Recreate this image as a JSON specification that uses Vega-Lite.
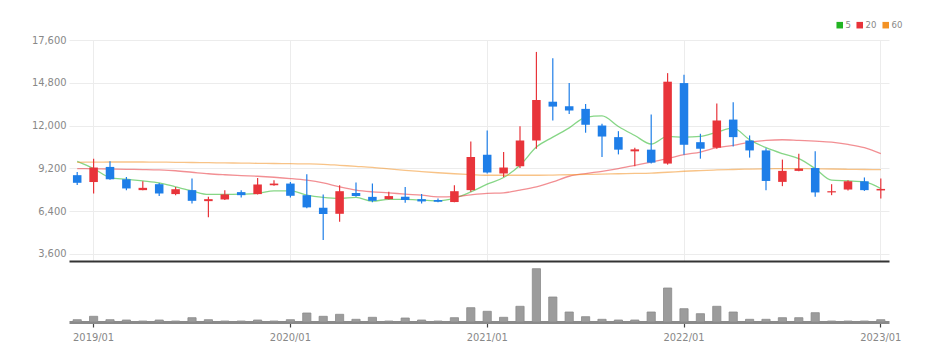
{
  "$schema": "https://vega.github.io/schema/vega-lite/v6.json",
  "background": "white",
  "padding": {"left": 31, "top": 20, "right": 0, "bottom": 0},
  "spacing": 0,
  "bounds": "flush",
  "resolve": {"scale": {"color": "independent"}, "legend": {"color": "independent"}},
  "config": {
    "view": {"stroke": null},
    "font": "Liberation Sans Narrow, DejaVu Sans Condensed, sans-serif",
    "axis": {"labelFont": "Liberation Sans Narrow, DejaVu Sans Condensed, sans-serif", "labelColor": "#888888", "labelFontSize": 11},
    "legend": {"labelFont": "Liberation Sans Narrow, DejaVu Sans Condensed, sans-serif"}
  },
  "datasets": {
    "stock": [
      {"ym": "2018/12", "o": 8750, "h": 8950, "l": 8100, "c": 8250, "vol": 23000, "ma5": 9656, "ma20": 9181, "ma60": 9591},
      {"ym": "2019/01", "o": 8300, "h": 9830, "l": 7550, "c": 9250, "vol": 57000, "ma5": 9181, "ma20": 9168, "ma60": 9604},
      {"ym": "2019/02", "o": 9290, "h": 9660, "l": 8450, "c": 8480, "vol": 23000, "ma5": 8595, "ma20": 9155, "ma60": 9611},
      {"ym": "2019/03", "o": 8480, "h": 8630, "l": 7770, "c": 7880, "vol": 20000, "ma5": 8484, "ma20": 9135, "ma60": 9611},
      {"ym": "2019/04", "o": 7770, "h": 8350, "l": 7770, "c": 7920, "vol": 10000, "ma5": 8373, "ma20": 9116, "ma60": 9611},
      {"ym": "2019/05", "o": 8160, "h": 8240, "l": 7380, "c": 7550, "vol": 20000, "ma5": 8243, "ma20": 9090, "ma60": 9604},
      {"ym": "2019/06", "o": 7510, "h": 7980, "l": 7440, "c": 7830, "vol": 10000, "ma5": 7983, "ma20": 9038, "ma60": 9591},
      {"ym": "2019/07", "o": 7770, "h": 8530, "l": 6900, "c": 7070, "vol": 43000, "ma5": 7722, "ma20": 8940, "ma60": 9578},
      {"ym": "2019/08", "o": 7050, "h": 7330, "l": 5990, "c": 7180, "vol": 23000, "ma5": 7488, "ma20": 8842, "ma60": 9565},
      {"ym": "2019/09", "o": 7160, "h": 7770, "l": 7120, "c": 7490, "vol": 10000, "ma5": 7488, "ma20": 8777, "ma60": 9552},
      {"ym": "2019/10", "o": 7640, "h": 7770, "l": 7290, "c": 7440, "vol": 10000, "ma5": 7507, "ma20": 8725, "ma60": 9539},
      {"ym": "2019/11", "o": 7510, "h": 8570, "l": 7490, "c": 8140, "vol": 20000, "ma5": 7553, "ma20": 8679, "ma60": 9526},
      {"ym": "2019/12", "o": 8090, "h": 8420, "l": 8050, "c": 8200, "vol": 10000, "ma5": 7722, "ma20": 8614, "ma60": 9513},
      {"ym": "2020/01", "o": 8200, "h": 8310, "l": 7290, "c": 7400, "vol": 23000, "ma5": 7722, "ma20": 8530, "ma60": 9500},
      {"ym": "2020/02", "o": 7440, "h": 8810, "l": 6580, "c": 6640, "vol": 90000, "ma5": 7442, "ma20": 8419, "ma60": 9487},
      {"ym": "2020/03", "o": 6620, "h": 7490, "l": 4510, "c": 6200, "vol": 57000, "ma5": 7292, "ma20": 8243, "ma60": 9461},
      {"ym": "2020/04", "o": 6220, "h": 8090, "l": 5700, "c": 7700, "vol": 77000, "ma5": 7227, "ma20": 7983, "ma60": 9396},
      {"ym": "2020/05", "o": 7590, "h": 8270, "l": 7330, "c": 7380, "vol": 27000, "ma5": 7292, "ma20": 7768, "ma60": 9331},
      {"ym": "2020/06", "o": 7330, "h": 8200, "l": 6970, "c": 7070, "vol": 47000, "ma5": 7051, "ma20": 7657, "ma60": 9265},
      {"ym": "2020/07", "o": 7180, "h": 7660, "l": 7160, "c": 7380, "vol": 10000, "ma5": 7162, "ma20": 7592, "ma60": 9168},
      {"ym": "2020/08", "o": 7330, "h": 7980, "l": 6940, "c": 7120, "vol": 40000, "ma5": 7162, "ma20": 7507, "ma60": 9070},
      {"ym": "2020/09", "o": 7180, "h": 7510, "l": 6900, "c": 7030, "vol": 20000, "ma5": 7117, "ma20": 7442, "ma60": 8985},
      {"ym": "2020/10", "o": 7120, "h": 7230, "l": 6970, "c": 7010, "vol": 10000, "ma5": 7071, "ma20": 7331, "ma60": 8907},
      {"ym": "2020/11", "o": 6990, "h": 8090, "l": 6970, "c": 7700, "vol": 43000, "ma5": 7250, "ma20": 7350, "ma60": 8842},
      {"ym": "2020/12", "o": 7770, "h": 10960, "l": 7660, "c": 9940, "vol": 143000, "ma5": 7657, "ma20": 7462, "ma60": 8790},
      {"ym": "2021/01", "o": 10090, "h": 11680, "l": 8860, "c": 8920, "vol": 107000, "ma5": 8158, "ma20": 7553, "ma60": 8744},
      {"ym": "2021/02", "o": 8860, "h": 10260, "l": 8630, "c": 9250, "vol": 47000, "ma5": 8595, "ma20": 7592, "ma60": 8744},
      {"ym": "2021/03", "o": 9330, "h": 11960, "l": 9220, "c": 11020, "vol": 157000, "ma5": 9396, "ma20": 7768, "ma60": 8744},
      {"ym": "2021/04", "o": 11020, "h": 16820, "l": 10480, "c": 13670, "vol": 533000, "ma5": 10588, "ma20": 7983, "ma60": 8744},
      {"ym": "2021/05", "o": 13560, "h": 16410, "l": 12330, "c": 13240, "vol": 250000, "ma5": 11238, "ma20": 8308, "ma60": 8758},
      {"ym": "2021/06", "o": 13260, "h": 14780, "l": 12760, "c": 12980, "vol": 100000, "ma5": 11850, "ma20": 8679, "ma60": 8777},
      {"ym": "2021/07", "o": 13090, "h": 13410, "l": 11530, "c": 12050, "vol": 53000, "ma5": 12541, "ma20": 8855, "ma60": 8797},
      {"ym": "2021/08", "o": 12000, "h": 12110, "l": 9940, "c": 11280, "vol": 27000, "ma5": 12632, "ma20": 9005, "ma60": 8823},
      {"ym": "2021/09", "o": 11240, "h": 11630, "l": 10110, "c": 10420, "vol": 20000, "ma5": 11935, "ma20": 9181, "ma60": 8842},
      {"ym": "2021/10", "o": 10310, "h": 10550, "l": 9330, "c": 10440, "vol": 20000, "ma5": 11349, "ma20": 9396, "ma60": 8862},
      {"ym": "2021/11", "o": 10420, "h": 12720, "l": 9510, "c": 9570, "vol": 100000, "ma5": 10790, "ma20": 9611, "ma60": 8888},
      {"ym": "2021/12", "o": 9510, "h": 15430, "l": 9440, "c": 14870, "vol": 340000, "ma5": 11284, "ma20": 9832, "ma60": 8940},
      {"ym": "2022/01", "o": 14780, "h": 15320, "l": 10080, "c": 10740, "vol": 133000, "ma5": 11238, "ma20": 10093, "ma60": 9005},
      {"ym": "2022/02", "o": 10910, "h": 11460, "l": 9830, "c": 10480, "vol": 83000, "ma5": 11284, "ma20": 10262, "ma60": 9051},
      {"ym": "2022/03", "o": 10550, "h": 13450, "l": 10480, "c": 12330, "vol": 157000, "ma5": 11566, "ma20": 10548, "ma60": 9090},
      {"ym": "2022/04", "o": 12390, "h": 13520, "l": 10630, "c": 11240, "vol": 100000, "ma5": 11826, "ma20": 10698, "ma60": 9122},
      {"ym": "2022/05", "o": 11020, "h": 11350, "l": 9900, "c": 10370, "vol": 27000, "ma5": 11070, "ma20": 10913, "ma60": 9148},
      {"ym": "2022/06", "o": 10370, "h": 10520, "l": 7770, "c": 8370, "vol": 27000, "ma5": 10548, "ma20": 11024, "ma60": 9168},
      {"ym": "2022/07", "o": 8310, "h": 9770, "l": 8030, "c": 9030, "vol": 43000, "ma5": 10158, "ma20": 11069, "ma60": 9174},
      {"ym": "2022/08", "o": 9030, "h": 10160, "l": 9000, "c": 9180, "vol": 43000, "ma5": 9832, "ma20": 11024, "ma60": 9174},
      {"ym": "2022/09", "o": 9220, "h": 10310, "l": 7330, "c": 7620, "vol": 93000, "ma5": 9181, "ma20": 10978, "ma60": 9168},
      {"ym": "2022/10", "o": 7620, "h": 8160, "l": 7440, "c": 7700, "vol": 10000, "ma5": 8419, "ma20": 10913, "ma60": 9155},
      {"ym": "2022/11", "o": 7810, "h": 8420, "l": 7750, "c": 8350, "vol": 10000, "ma5": 8373, "ma20": 10763, "ma60": 9135},
      {"ym": "2022/12", "o": 8350, "h": 8600, "l": 7720, "c": 7770, "vol": 10000, "ma5": 8308, "ma20": 10548, "ma60": 9122},
      {"ym": "2023/01", "o": 7750, "h": 8530, "l": 7230, "c": 7850, "vol": 23000, "ma5": 7878, "ma20": 10158, "ma60": 9109}
    ]
  },
  "vconcat": [
    {
      "width": 820,
      "height": 221,
      "data": {"name": "stock"},
      "encoding": {
        "x": {
          "field": "ym", "type": "ordinal", "sort": null,
          "scale": {"paddingInner": 0, "paddingOuter": 0},
          "axis": {
            "values": ["2019/01", "2020/01", "2021/01", "2022/01", "2023/01"],
            "title": null, "labels": false, "ticks": false,
            "bandPosition": 0.5,
            "domainColor": "#333333", "domainWidth": 2,
            "grid": true, "gridColor": "#ececec", "gridWidth": 1
          }
        }
      },
      "layer": [
        {
          "transform": [{"fold": ["ma5", "ma20", "ma60"], "as": ["ma", "mv"]}],
          "mark": {"type": "line", "strokeWidth": 1.3, "strokeOpacity": 0.55, "interpolate": "monotone"},
          "encoding": {
            "y": {
              "field": "mv", "type": "quantitative",
              "scale": {"domain": [3130, 17600], "nice": false, "zero": false},
              "axis": {"values": [3600, 6400, 9200, 12000, 14800, 17600], "format": ",d", "title": null, "domain": false, "ticks": false, "labelPadding": 3, "grid": true, "gridColor": "#ececec"}
            },
            "color": {
              "field": "ma", "type": "nominal",
              "scale": {"domain": ["ma5", "ma20", "ma60"], "range": ["#22b422", "#e8333a", "#f39224"]},
              "legend": {
                "orient": "none", "legendX": 766, "legendY": -20,
                "direction": "horizontal", "title": null,
                "symbolType": "square", "symbolSize": 10, "symbolStrokeWidth": 3.4, "symbolOpacity": 1,
                "labelFontSize": 9.5, "labelColor": "#888888",
                "columnPadding": 0, "labelOffset": 1, "padding": 0,
                "labelExpr": "replace(datum.label, 'ma', '')"
              }
            }
          }
        },
        {
          "mark": {"type": "rule", "strokeWidth": 1.2},
          "encoding": {
            "y": {
              "field": "l", "type": "quantitative",
              "scale": {"domain": [3130, 17600], "nice": false, "zero": false},
              "axis": {"values": [3600, 6400, 9200, 12000, 14800, 17600], "format": ",d", "title": null, "domain": false, "ticks": false, "labelPadding": 3, "grid": true, "gridColor": "#ececec"}
            },
            "y2": {"field": "h"},
            "stroke": {"condition": {"test": "datum.c >= datum.o", "value": "#e8343a"}, "value": "#1e7ee8"}
          }
        },
        {
          "mark": {"type": "bar", "width": {"band": 0.52}},
          "encoding": {
            "y": {
              "field": "o", "type": "quantitative",
              "scale": {"domain": [3130, 17600], "nice": false, "zero": false},
              "axis": {"values": [3600, 6400, 9200, 12000, 14800, 17600], "format": ",d", "title": null, "domain": false, "ticks": false, "labelPadding": 3, "grid": true, "gridColor": "#ececec"}
            },
            "y2": {"field": "c"},
            "fill": {"condition": {"test": "datum.c >= datum.o", "value": "#e8343a"}, "value": "#1e7ee8"}
          }
        }
      ]
    },
    {
      "width": 820,
      "height": 61,
      "data": {"name": "stock"},
      "mark": {"type": "bar", "width": {"band": 0.5}, "color": "#9c9c9c", "stroke": "#8a8a8a", "strokeWidth": 0.8},
      "encoding": {
        "x": {
          "field": "ym", "type": "ordinal", "sort": null,
          "scale": {"paddingInner": 0, "paddingOuter": 0},
          "axis": {
            "values": ["2019/01", "2020/01", "2021/01", "2022/01", "2023/01"],
            "title": null, "labelAngle": 0, "bandPosition": 0.5,
            "tickColor": "#444444", "tickSize": 5, "tickWidth": 1.2,
            "domainColor": "#8a8a8a", "domainWidth": 3,
            "labelPadding": 4, "grid": false
          }
        },
        "y": {"field": "vol", "type": "quantitative", "scale": {"domain": [0, 610000], "nice": false}, "axis": null}
      }
    }
  ]
}
